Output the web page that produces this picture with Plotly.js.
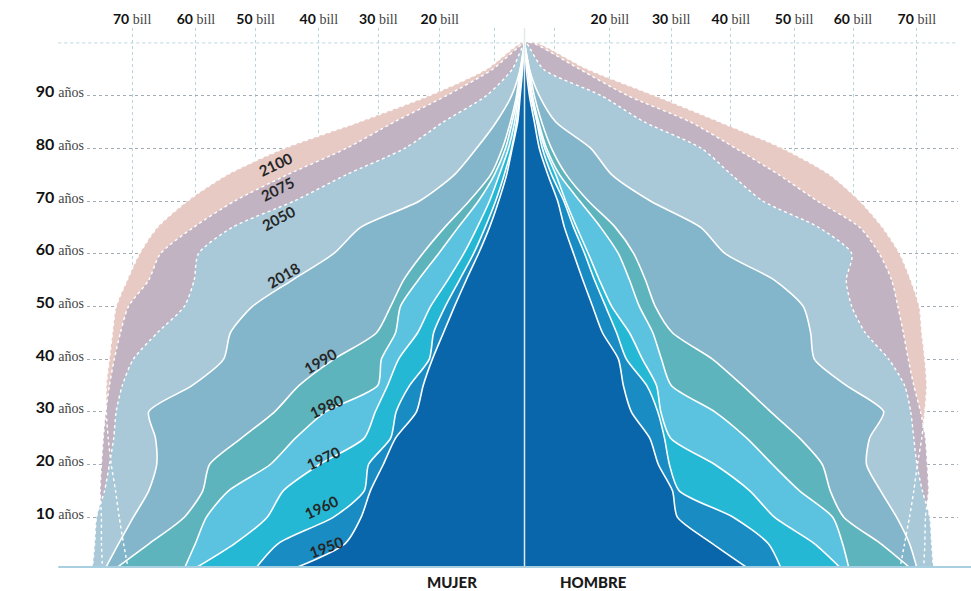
<!DOCTYPE html>
<html>
<head>
<meta charset="utf-8">
<script src="https://cdn.plot.ly/plotly-3.0.1.min.js"></script>
<style>html,body{margin:0;padding:0;background:#fff;}#chart{width:971px;height:591px;}</style>
</head>
<body>
<div id="chart"></div>
<script>
// Ages (años)
const ages = [0,5,10,15,20,25,30,35,40,45,50,55,60,65,70,75,80,85,90,95,100];

// Mujer (left side), population per age
const mujer2100 = [64.5,65.3,66.0,66.6,67.3,67.8,68.1,68.1,67.6,67.1,66.5,64.7,62.7,59.8,54.9,48.4,39.1,26.9,15.5,6.2,0.5];
const mujer2075 = [68.7,68.9,68.9,69.1,68.9,68.6,68.2,67.6,66.8,65.8,64.5,61.2,59.3,53.9,47.2,38.6,29.0,21.2,12.7,5.2,0];
const mujer2050 = [70.4,70.0,69.7,68.4,67.6,66.9,66.5,65.5,63.7,59.8,55.4,53.8,53.1,47.6,37.5,29.0,19.5,13.2,6.2,2.0,0];
const mujer2018 = [68.4,66.1,63.7,61.2,59.9,60.1,61.2,54.1,49.0,47.9,44.3,37.8,31.1,26.7,17.1,11.4,7.8,4.6,2.1,0.7,0];
const mujer1990 = [66.9,61.1,55.4,52.4,51.3,46.1,40.7,36.7,31.0,24.1,21.8,19.7,16.6,13.0,9.0,5.5,3.6,2.3,1.3,0.7,0];
const mujer1980 = [55.5,53.6,51.8,48.2,41.4,37.3,32.4,23.9,23.3,21.0,20.2,17.3,14.0,10.8,7.5,4.9,3.1,2.0,1.1,0.5,0];
const mujer1970 = [54.1,47.2,41.9,39.3,33.4,26.1,24.3,22.3,20.5,17.4,15.3,12.5,9.9,7.7,5.7,4.1,2.6,1.6,1.0,0.5,0];
const mujer1960 = [44.0,40.1,31.1,26.1,25.4,21.8,20.9,18.7,15.5,14.8,12.9,10.6,8.3,6.4,4.7,3.3,2.1,1.3,0.8,0.3,0];
const mujer1950 = [38.1,29.2,26.6,25.1,23.0,21.0,17.6,16.5,15.0,13.2,11.4,9.5,7.5,5.7,4.2,2.9,2.0,1.1,0.7,0.3,0];

// Hombre (right side), population per age
const hombre2100 = [61.1,61.9,62.7,63.4,64.0,64.7,65.2,65.5,65.2,64.7,64.3,62.9,61.1,58.3,54.6,49.7,42.0,31.8,21.2,10.3,2.0];
const hombre2075 = [65.0,65.2,65.3,65.8,65.6,65.3,64.5,63.4,62.5,61.7,60.8,59.8,57.8,54.6,47.7,41.4,34.4,27.0,16.8,9.0,1.3];
const hombre2050 = [66.6,66.3,66.0,64.8,63.9,63.4,62.9,61.9,59.3,55.5,53.3,52.4,53.3,47.9,38.8,33.7,28.8,19.5,12.5,3.1,0.3];
const hombre2018 = [64.0,62.7,60.6,58.0,55.7,56.2,58.5,52.4,47.2,46.6,45.4,40.7,32.7,28.7,20.5,14.2,10.8,5.1,2.4,0.8,0];
const hombre1990 = [63.2,58.0,52.0,49.8,48.5,44.8,40.1,35.5,30.6,24.1,21.3,19.7,17.8,14.8,10.4,6.8,4.4,2.8,1.6,0.8,0];
const hombre1980 = [52.9,51.8,50.2,44.8,40.4,36.2,31.0,23.9,22.3,20.9,18.7,17.1,15.3,12.4,9.0,5.7,3.6,2.3,1.3,0.7,0];
const hombre1970 = [51.8,47.2,40.7,36.7,31.0,23.8,22.2,21.5,19.2,17.1,14.2,12.2,10.4,8.5,6.7,5.1,3.3,2.1,1.1,0.5,0];
const hombre1960 = [41.9,39.7,34.0,25.2,23.6,22.8,21.7,19.9,16.6,15.0,13.2,11.4,9.8,8.0,6.4,4.4,2.9,2.0,1.0,0.5,0];
const hombre1950 = [36.8,30.6,24.9,24.1,21.8,20.4,17.4,16.1,15.3,12.7,11.1,9.5,8.0,6.5,5.4,3.8,2.4,1.6,0.8,0.3,0];

const years = ['2100','2075','2050','2018','1990','1980','1970','1960','1950'];
const mujer = [mujer2100,mujer2075,mujer2050,mujer2018,mujer1990,mujer1980,mujer1970,mujer1960,mujer1950];
const hombre = [hombre2100,hombre2075,hombre2050,hombre2018,hombre1990,hombre1980,hombre1970,hombre1960,hombre1950];
const projected = ['2100','2075','2050'];

// Axis ticks (top) and age ticks (left)
const xTickVals = [-63.9,-53.5,-43.8,-33.5,-23.8,-13.8,-4.9,4.9,13.9,23.9,33.6,43.9,53.5,63.9];
const xTickNums = ['70','60','50','40','30','20','','','20','30','40','50','60','70'];
const ageTicks = [10,20,30,40,50,60,70,80,90];

// Styles
const colors = {
  '2100':'#e8cac5','2075':'#c1b3c2','2050':'#a9c9d8','2018':'#83b5cb',
  '1990':'#5eb4bc','1980':'#5bc2e0','1970':'#25b8d5','1960':'#1a8cc4','1950':'#0a66aa'
};
const labelPos = {
  '2100':[-40.5,77.0,-25],'2075':[-40.3,72.3,-27],'2050':[-40.1,66.8,-28],'2018':[-39.2,56.0,-30],
  '1990':[-33.3,39.6,-30],'1980':[-32.2,31.1,-25],'1970':[-32.8,21.2,-25],'1960':[-33.1,11.9,-25],'1950':[-32.3,4.3,-20]
};

function outline(m,h){
  const x = m.map(v=>-v).concat(h.slice().reverse());
  const y = ages.concat(ages.slice().reverse());
  return {x,y};
}

const traces = [];
years.forEach((yr,i)=>{
  const p = outline(mujer[i],hombre[i]);
  const isProj = projected.includes(yr);
  traces.push({
    type:'scatter', mode:'lines', x:p.x, y:p.y, fill:'toself', fillcolor:colors[yr],
    line:{color: isProj ? 'rgba(0,0,0,0)' : '#ffffff', width: isProj ? 0 : 1.6, shape:'spline', smoothing:0.7},
    hoverinfo:'skip', showlegend:false
  });
});
years.forEach((yr,i)=>{
  if(!projected.includes(yr)) return;
  const p = outline(mujer[i],hombre[i]);
  traces.push({
    type:'scatter', mode:'lines', x:p.x, y:p.y,
    line:{color:'#ffffff', width:1.4, dash:'dot', shape:'spline', smoothing:0.7},
    hoverinfo:'skip', showlegend:false
  });
});

const serif = 'Liberation Serif, DejaVu Serif, serif';
const xTickText = xTickNums.map(n => n==='' ? '' : '<b>'+n+'</b> <span style="font-family:'+serif+';font-weight:normal;fill:#444;font-size:14px">bill</span>');
const yTickText = ageTicks.map(a => '<b>'+a+'</b> <span style="font-family:'+serif+';font-weight:normal;fill:#444;font-size:14px">años</span>');

const annotations = years.map(yr=>({
  x:labelPos[yr][0], y:labelPos[yr][1], xref:'x', yref:'y', text:yr, showarrow:false,
  textangle:labelPos[yr][2], font:{family:'Lato, Noto Sans, sans-serif', size:15, color:'#262626', weight:700}
}));
annotations.push(
  {x:-11.8, y:0, xref:'x', yref:'paper', yanchor:'top', yshift:-4, text:'MUJER', showarrow:false,
   font:{family:'Lato, Noto Sans, sans-serif', size:15, color:'#1a1a1a', weight:900}},
  {x:11.2, y:0, xref:'x', yref:'paper', yanchor:'top', yshift:-4, text:'HOMBRE', showarrow:false,
   font:{family:'Lato, Noto Sans, sans-serif', size:15, color:'#1a1a1a', weight:900}}
);

const layout = {
  width:971, height:591,
  margin:{l:87, r:13, t:28, b:24, pad:0},
  paper_bgcolor:'#ffffff', plot_bgcolor:'#ffffff',
  showlegend:false,
  xaxis:{
    range:[-71.25,70.6], side:'top', tickmode:'array', tickvals:xTickVals, ticktext:xTickText,
    showgrid:true, gridcolor:'#b9d6df', griddash:'dot', gridwidth:1,
    zeroline:false, showline:false, ticks:'', fixedrange:true,
    tickfont:{family:'Lato, Noto Sans, sans-serif', size:14, color:'#111'}
  },
  yaxis:{
    range:[0.55,102.83], tickmode:'array', tickvals:ageTicks, ticktext:yTickText,
    showgrid:true, gridcolor:'#a3adb3', griddash:'dot', gridwidth:1,
    zeroline:false, showline:false, ticks:'', fixedrange:true, ticklabelstandoff:2, ticklabelshift:-4,
    tickfont:{family:'Lato, Noto Sans, sans-serif', size:16, color:'#111'}
  },
  shapes:[
    {type:'line', xref:'paper', yref:'y', x0:-0.033, x1:1, y0:100, y1:100, layer:'below',
     line:{color:'#b9d6df', width:1, dash:'dot'}},
    {type:'line', xref:'x', yref:'paper', x0:0, x1:0, y0:0, y1:1, layer:'above',
     line:{color:'#e2e9ec', width:1.5}},
    {type:'line', xref:'paper', yref:'paper', x0:-0.033, x1:1.015, y0:0, y1:0, layer:'above',
     line:{color:'#a9d0e1', width:2}}
  ],
  annotations:annotations
};

Plotly.newPlot('chart', traces, layout, {displayModeBar:false, staticPlot:true});
</script>
</body>
</html>
